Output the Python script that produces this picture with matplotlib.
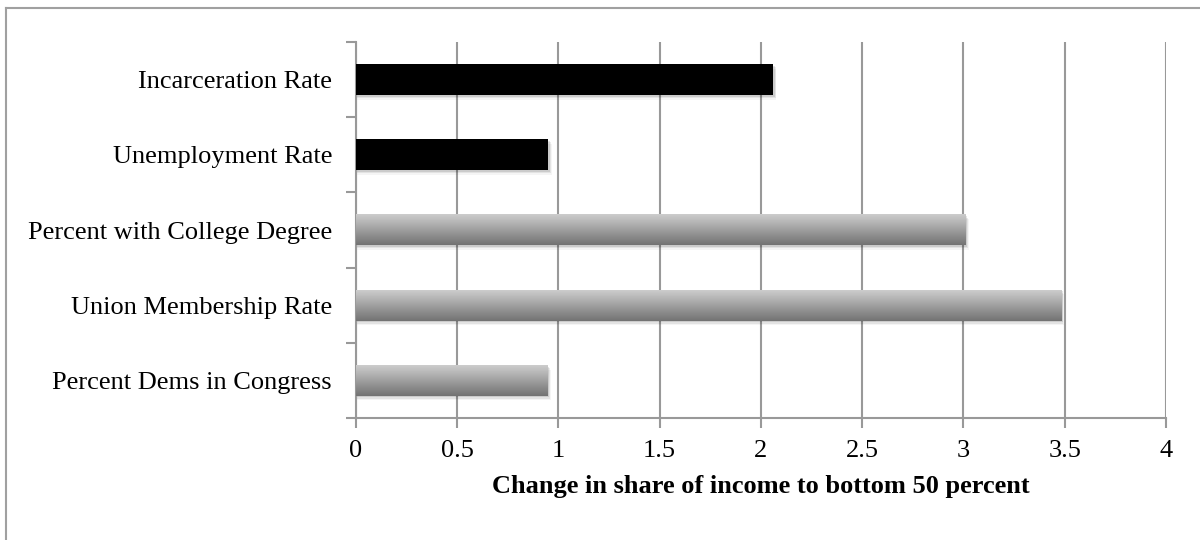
import matplotlib
import numpy as np

matplotlib.use("Agg")
import matplotlib.pyplot as plt
from matplotlib.patches import Rectangle

categories = [
    "Incarceration Rate",
    "Unemployment Rate",
    "Percent with College Degree",
    "Union Membership Rate",
    "Percent Dems in Congress",
]
values = [2.06, 0.95, 3.01, 3.48, 0.945]
is_black = [True, True, False, False, False]
x_ticks = [0, 0.5, 1, 1.5, 2, 2.5, 3, 3.5, 4]
x_tick_labels = ["0", "0.5", "1", "1.5", "2", "2.5", "3", "3.5", "4"]
x_label = "Change in share of income to bottom 50 percent"

plt.rcParams["font.family"] = ["Liberation Serif", "DejaVu Serif"]

fig = plt.figure(figsize=(12, 5.4), dpi=100)
ax = fig.add_axes([0.2964, 0.2259, 0.6753, 0.6963])

n = len(categories)
ypos = np.arange(n)[::-1]
bar_h = 0.41
grad = np.linspace(0.45, 0.80, 64).reshape(-1, 1)

for y, v, blk in zip(ypos, values, is_black):
    # soft drop shadow
    for k, a in enumerate([0.10, 0.07, 0.04]):
        ax.add_patch(Rectangle((0.005, y - bar_h / 2 - 0.02 - 0.02 * k), v + 0.004 * (k + 1), bar_h,
                               facecolor="black", alpha=a, edgecolor="none", zorder=2))
    if blk:
        ax.barh(y, v, height=bar_h, color="black", zorder=3)
    else:
        ax.imshow(grad, cmap="gray", vmin=0, vmax=1, aspect="auto", origin="lower",
                  extent=(0, v, y - bar_h / 2, y + bar_h / 2), zorder=3, interpolation="bilinear")

ax.set_xlim(0, 4)
ax.set_ylim(-0.5, n - 0.5)
ax.set_xticks(x_ticks)
ax.set_xticklabels(x_tick_labels, fontsize=19)
ax.set_yticks(ypos)
ax.set_yticklabels(categories, fontsize=19)
ax.set_yticks(np.arange(-0.5, n, 1.0), minor=True)
ax.tick_params(axis="y", which="major", length=0, pad=17)
ax.tick_params(axis="y", which="minor", length=7, width=1.5, color="#999999")
ax.tick_params(axis="x", length=7, width=1.5, color="#999999", pad=9)
ax.set_xlabel(x_label, fontsize=19, fontweight="bold", labelpad=9)

ax.grid(True, axis="x", color="#999999", linewidth=1.5, zorder=1)
ax.set_axisbelow(True)
for side in ["top", "right"]:
    ax.spines[side].set_visible(False)
for side in ["left", "bottom"]:
    ax.spines[side].set_color("#999999")
    ax.spines[side].set_linewidth(1.5)

# outer chart frame (top and left edges visible in the reference)
fig.add_artist(plt.Line2D([0.005, 1.0], [0.986, 0.986], color="#a0a0a0", linewidth=1.5,
                          transform=fig.transFigure))
fig.add_artist(plt.Line2D([0.005, 0.005], [0.0, 0.986], color="#a0a0a0", linewidth=1.5,
                          transform=fig.transFigure))

fig.savefig("out.png", dpi=100)
